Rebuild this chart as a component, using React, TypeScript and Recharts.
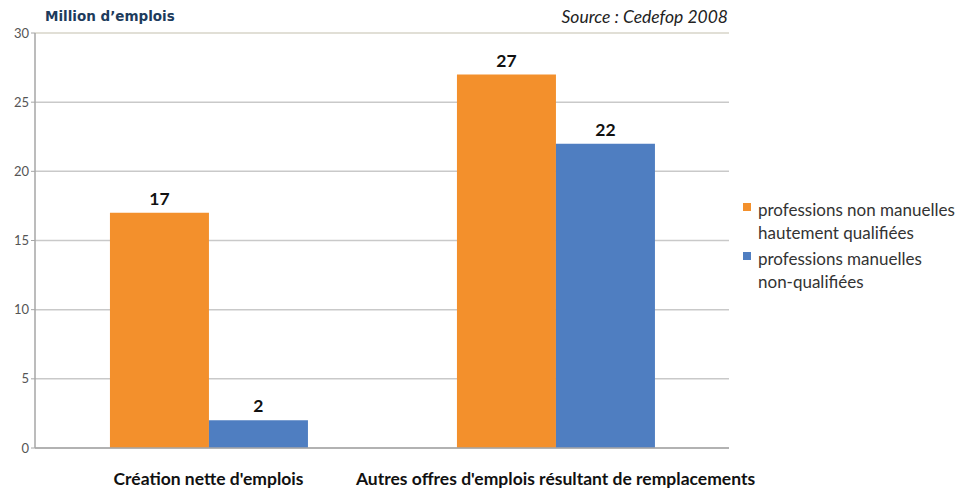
import { Bar, BarChart, CartesianGrid, LabelList, ReferenceLine, XAxis, YAxis } from "recharts"

const categories = ["Création nette d'emplois", "Autres offres d'emplois résultant de remplacements"]
const highSkilled = [17, 27]
const lowSkilled = [2, 22]
const yTicks = [0, 5, 10, 15, 20, 25, 30]

const seriesNames = ["professions non manuelles hautement qualifiées", "professions manuelles non-qualifiées"]
const legendLines = [
  ["professions non manuelles", "hautement qualifiées"],
  ["professions manuelles", "non-qualifiées"],
]

const ORANGE = "#F3902C"
const BLUE = "#4F7EC1"

const data = categories.map((name, i) => ({
  name,
  high: highSkilled[i],
  low: lowSkilled[i],
}))

const font = "Lato, 'Open Sans', sans-serif"
const labelStyle = { fontFamily: font, fontWeight: "bold", fontSize: 17.5, fill: "#111" }

export default function App() {
  return (
    <div style={{ position: "absolute", left: 0, top: 0, width: 964, height: 489, background: "#fff", fontFamily: font }}>
      <div
        style={{
          position: "absolute",
          left: 45,
          top: 8,
          fontFamily: "'DejaVu Sans', sans-serif",
          fontWeight: "bold",
          fontSize: 13.5,
          color: "#1d3b5c",
        }}
      >
        Million d’emplois
      </div>
      <div
        style={{
          position: "absolute",
          right: 236,
          top: 6,
          fontStyle: "italic",
          fontSize: 17.5,
          color: "#222",
        }}
      >
        Source : Cedefop 2008
      </div>

      <BarChart
        width={964}
        height={489}
        data={data}
        margin={{ top: 33, right: 235, bottom: 0, left: 0 }}
        barCategoryGap="21.6%"
        barGap={0}
      >
        <CartesianGrid vertical={false} stroke="#c9c9c9" strokeWidth={1.5} />
        <XAxis
          dataKey="name"
          height={41}
          axisLine={{ stroke: "#a6a6a6", strokeWidth: 1.5 }}
          tickLine={false}
          tick={{ fontFamily: font, fontWeight: "bold", fontSize: 17.5, fill: "#111" }}
          tickMargin={19}
        />
        <YAxis
          domain={[0, 30]}
          ticks={yTicks}
          width={35}
          axisLine={{ stroke: "#a6a6a6", strokeWidth: 1.5 }}
          tickLine={{ stroke: "#a6a6a6" }}
          tickSize={4}
          tick={{ fontFamily: font, fontSize: 13, fill: "#555" }}
        />
        <YAxis
          yAxisId="right"
          orientation="right"
          domain={[0, 30]}
          width={0}
          axisLine={{ stroke: "#e4e2d6" }}
          tickLine={false}
          tick={false}
        />
        <ReferenceLine y={30} stroke="#e4e2d6" strokeWidth={1.5} />
        <Bar dataKey="high" name={seriesNames[0]} fill={ORANGE} isAnimationActive={false}>
          <LabelList dataKey="high" position="top" offset={8} style={labelStyle} />
        </Bar>
        <Bar dataKey="low" name={seriesNames[1]} fill={BLUE} isAnimationActive={false}>
          <LabelList dataKey="low" position="top" offset={8} style={labelStyle} />
        </Bar>
      </BarChart>

      {legendLines.map((lines, i) => (
        <div
          key={i}
          style={{
            position: "absolute",
            left: 743,
            top: 198 + i * 49,
            display: "flex",
            alignItems: "flex-start",
            fontSize: 17,
            lineHeight: "23px",
            color: "#333",
          }}
        >
          <span
            style={{
              display: "inline-block",
              width: 8,
              height: 8,
              marginTop: 5,
              marginRight: 7,
              background: i === 0 ? ORANGE : BLUE,
            }}
          />
          <span>
            {lines.map((l, j) => (
              <div key={j}>{l}</div>
            ))}
          </span>
        </div>
      ))}
    </div>
  )
}
